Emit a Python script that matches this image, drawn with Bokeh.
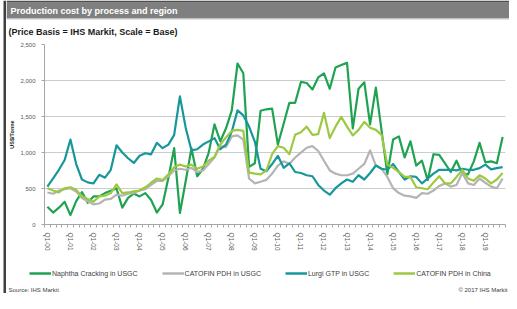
from bokeh.plotting import figure
from bokeh.layouts import row, column
from bokeh.models import (Range1d, FixedTicker, NumeralTickFormatter, Legend, LegendItem)
from bokeh.core.properties import value
from bokeh.embed import file_html
from bokeh.resources import INLINE

# ---------------- data ----------------
quarters = list(range(80))  # Q1-00 .. Q4-19
tick_positions = list(range(0, 80, 4))
tick_labels = ["Q1-%02d" % y for y in range(0, 20)]

naphtha_usgc = [247, 166, 234, 315, 130, 324, 450, 301, 390, 390,
                436, 470, 500, 235, 370, 430, 390, 436, 340, 166,
                279, 650, 1060, 160, 600, 1060, 670, 774, 999, 1390,
                1156, 1336, 1584, 2236, 2100, 800, 850, 1580, 1600, 1610,
                1110, 1400, 1690, 1690, 1980, 1965, 1876, 2043, 2100, 1885,
                2180, 2214, 2245, 1336, 1885, 1975, 1390, 1900, 1300, 700,
                1180, 1224, 931, 1156, 819, 886, 616, 976, 967, 850,
                729, 886, 706, 697, 877, 1134, 864, 877, 850, 1215]

catofin_usgc = [445, 427, 472, 490, 504, 459, 369, 324, 279, 292,
                346, 355, 414, 400, 427, 436, 472, 490, 549, 607,
                607, 670, 751, 774, 760, 787, 729, 751, 841, 931,
                1089, 1075, 1224, 1237, 1179, 639, 571, 594, 620, 706,
                819, 877, 841, 931, 999, 1066, 1089, 1021, 886, 751,
                706, 684, 684, 706, 774, 841, 1030, 819, 774, 661,
                504, 436, 400, 391, 369, 436, 427, 472, 535, 571,
                526, 549, 715, 571, 549, 639, 580, 526, 504, 639]

lurgi_usgc = [527, 640, 760, 895, 1180, 840, 625, 585, 570, 690,
              650, 760, 1100, 1000, 920, 855, 955, 990, 975, 1135,
              1060, 1110, 1245, 1780, 1345, 1030, 1045, 1110, 1155, 1200,
              1045, 1110, 1290, 1585, 1515, 1360, 1150, 774, 740, 840,
              954, 787, 850, 729, 715, 684, 670, 549, 472, 414,
              504, 571, 625, 594, 684, 625, 715, 819, 774, 760,
              840, 729, 625, 670, 661, 571, 639, 706, 760, 760,
              760, 751, 774, 760, 760, 783, 832, 765, 783, 796]

catofin_china = [504, 472, 445, 504, 517, 481, 391, 355, 315, 391,
                 400, 436, 558, 436, 445, 459, 472, 517, 580, 639,
                 616, 697, 796, 832, 805, 832, 774, 805, 886, 940,
                 1111, 1210, 1300, 1314, 1300, 720, 706, 697, 750, 976,
                 1089, 1066, 976, 1246, 1282, 1359, 1246, 1255, 1552, 1201,
                 1359, 1494, 1359, 1237, 1314, 1426, 1345, 1314, 1246, 832,
                 787, 729, 661, 661, 517, 504, 490, 585, 670, 571,
                 571, 661, 760, 639, 607, 684, 639, 571, 625, 715]

series_names = ["Naphtha Cracking in USGC", "CATOFIN PDH in USGC",
                "Lurgi GTP in USGC", "CATOFIN PDH in China"]
series_values = [naphtha_usgc, catofin_usgc, lurgi_usgc, catofin_china]
series_colors = ["#1fa352", "#b4b4b4", "#18979a", "#9cc940"]

y_ticks = [0, 500, 1000, 1500, 2000, 2500]

title_text = "Production cost by process and region"
subtitle_text = "(Price Basis = IHS Markit, Scale = Base)"
source_text = "Source: IHS Markit"
copyright_text = "\u00a9 2017 IHS Markit"

FONT = "Liberation Sans"
NAN = float("nan")

# ---------------- geometry ----------------
W, H = 509, 293
STRIP_W = 6
CW = W - STRIP_W          # width of the column
HEAD_H = 38
MAIN_H = 215
FOOT_H = H - HEAD_H - MAIN_H


def deco_fig(w, h):
    f = figure(width=w, height=h, output_backend="svg", toolbar_location=None,
               x_range=Range1d(0, w), y_range=Range1d(h, 0),
               x_axis_type=None, y_axis_type=None,
               min_border=0, min_border_left=0, min_border_right=0,
               min_border_top=0, min_border_bottom=0)
    f.outline_line_color = None
    f.background_fill_color = "white"
    f.border_fill_color = "white"
    f.grid.visible = False
    return f


# left dark frame border
strip = deco_fig(STRIP_W, H)
strip.quad(left=[3], right=[6], top=[0], bottom=[H], fill_color="#404040",
           line_color=None)

# header: title bar + subtitle
head = deco_fig(CW, HEAD_H)
head.quad(left=[0], right=[CW], top=[2], bottom=[18], fill_color="#7f7f7f",
          line_color=None)
head.quad(left=[0], right=[CW], top=[0], bottom=[2], fill_color="#4d4d4d",
          line_color=None)
head.quad(left=[0], right=[CW], top=[18], bottom=[19], fill_color="#c4c4c4",
          line_color=None)
head.text(x=[4], y=[10.5], text=[title_text], text_font=value(FONT),
          text_font_style="bold", text_font_size="9px", text_color="white",
          text_baseline="middle")
head.text(x=[2], y=[31], text=[subtitle_text], text_font=value(FONT),
          text_font_style="bold", text_font_size="9px", text_color="#1a1a1a",
          text_baseline="middle")

# main chart
FL, FR, FT, FB = 38, CW - 4, 6, 189   # frame edges inside main figure
p = figure(width=CW, height=MAIN_H, output_backend="svg", toolbar_location=None,
           x_range=Range1d(-0.5, 79.5), y_range=Range1d(0, 2500),
           min_border_left=FL, min_border_right=CW - FR,
           min_border_top=FT, min_border_bottom=MAIN_H - FB)
p.outline_line_color = None
p.background_fill_color = "white"
p.border_fill_color = "white"

for vals, col in zip(series_values, series_colors):
    p.line(quarters, vals, line_color=col, line_width=2.2, line_join="round")

xa = p.xaxis[0]
xa.ticker = FixedTicker(ticks=tick_positions,
                        minor_ticks=[i - 0.5 for i in range(81)])
xa.major_label_overrides = {t: l for t, l in zip(tick_positions, tick_labels)}
xa.major_label_orientation = "vertical"
xa.major_label_text_font = FONT
xa.major_label_text_font_size = "6.5px"
xa.major_label_text_color = "#595959"
xa.major_label_standoff = 5
xa.major_tick_out = 0
xa.major_tick_in = 0
xa.minor_tick_out = 3
xa.minor_tick_in = 0
xa.minor_tick_line_color = "#a6a6a6"
xa.axis_line_color = "#a6a6a6"
p.xgrid.visible = False

ya = p.yaxis[0]
ya.ticker = FixedTicker(ticks=y_ticks)
ya.formatter = NumeralTickFormatter(format="0,0")
ya.major_label_text_font = FONT
ya.major_label_text_font_size = "6px"
ya.major_label_text_color = "#595959"
ya.major_label_standoff = 6
ya.major_tick_out = 3
ya.major_tick_in = 0
ya.minor_tick_line_color = None
ya.major_tick_line_color = "#a6a6a6"
ya.axis_line_color = "#a6a6a6"
ya.axis_label = "US$/Tonne"
ya.axis_label_text_font = FONT
ya.axis_label_text_font_style = "bold"
ya.axis_label_text_font_size = "5.5px"
ya.axis_label_text_color = "#262626"
ya.axis_label_standoff = 2
p.ygrid.ticker = FixedTicker(ticks=y_ticks)
p.ygrid.grid_line_color = "#cccccc"
p.ygrid.grid_line_width = 1.2

# footer: legend + source
foot = deco_fig(CW, FOOT_H)
leg_renderers = [foot.line(x=[NAN], y=[NAN], line_color=c, line_width=2.5)
                 for c in series_colors]
legend = Legend(items=[LegendItem(label=n, renderers=[r])
                       for n, r in zip(series_names, leg_renderers)],
                location=(23, FOOT_H - 25), orientation="horizontal",
                glyph_width=22, glyph_height=10, label_height=10, label_width=10,
                label_standoff=1, spacing=24, padding=0, margin=0,
                border_line_alpha=0, background_fill_alpha=0,
                label_text_font=FONT, label_text_font_size="7px",
                label_text_color="#404040")
foot.add_layout(legend, "center")
foot.text(x=[2], y=[36], text=[source_text], text_font=value(FONT),
          text_font_size="6px", text_color="#404040", text_baseline="middle")
foot.text(x=[CW - 2], y=[36], text=[copyright_text], text_font=value(FONT),
          text_font_size="6px", text_color="#404040", text_baseline="middle",
          text_align="right")

layout = row(strip, column(row(head), row(p), row(foot)))
open("out.html", "w").write(file_html(layout, INLINE))
